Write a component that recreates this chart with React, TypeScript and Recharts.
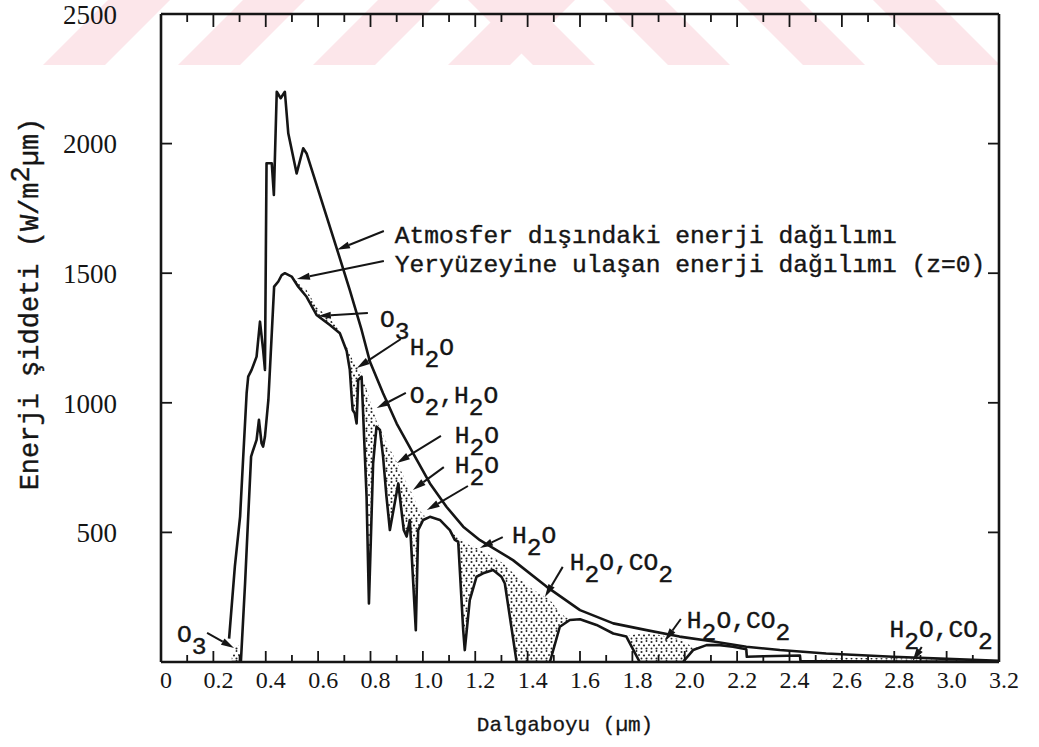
import React from 'react';
import {
  ComposedChart, Line, Area, XAxis, YAxis, ReferenceLine, ReferenceDot,
} from 'recharts';

const W = 1039;
const H = 747;
const MARGIN = { top: 4, right: 30, bottom: 55, left: 101 };
const TOP_AXIS_H = 10;
const RIGHT_AXIS_W = 10;
const LEFT_AXIS_W = 60;
const BOTTOM_AXIS_H = 30;
// plot box that the axes above produce
const PLOT = {
  left: MARGIN.left + LEFT_AXIS_W,
  right: W - MARGIN.right - RIGHT_AXIS_W,
  top: MARGIN.top + TOP_AXIS_H,
  bottom: H - MARGIN.bottom - BOTTOM_AXIS_H,
};
const X_DOMAIN: [number, number] = [0, 3.2];
const Y_DOMAIN: [number, number] = [0, 2500];
const INK = '#151515';
const MONO = '"Liberation Mono", "Courier New", monospace';
const SERIF = '"Liberation Serif", "Times New Roman", serif';

// spectrum outside the atmosphere: [µm, W/m²µm]
const atmosferDisi: [number, number][] = [
  [0.26, 90], [0.282, 368], [0.302, 561], [0.314, 792], [0.327, 1037],
  [0.333, 1101], [0.346, 1127], [0.365, 1178], [0.378, 1313], [0.39, 1204],
  [0.397, 1127], [0.403, 1924], [0.423, 1924], [0.431, 1802], [0.442, 2200],
  [0.457, 2175], [0.473, 2200], [0.486, 2040], [0.518, 1885], [0.543, 1982],
  [0.556, 1962], [0.671, 1596], [0.721, 1435], [0.766, 1281], [0.798, 1158],
  [0.848, 1037], [0.9, 920], [0.963, 805], [1.027, 689], [1.09, 599],
  [1.154, 522], [1.218, 470], [1.344, 393], [1.472, 291], [1.6, 200],
  [1.727, 149], [1.854, 123], [1.98, 98], [2.11, 79], [2.235, 59],
  [2.363, 46], [2.54, 33], [2.795, 20], [3.0, 12], [3.2, 5],
];

// spectrum at ground level (z=0): [µm, W/m²µm, top of the stippled absorption band]
const yeryuzu: [number, number, number | null][] = [
  [0.27, 0, 20], [0.285, 0, 70], [0.3, 0, 60], [0.305, 0, 0],
  [0.321, 303, null], [0.333, 561, null], [0.344, 792, null], [0.352, 818, null],
  [0.365, 857, null], [0.374, 934, null], [0.384, 844, null], [0.39, 831, null],
  [0.397, 870, null], [0.41, 1011, null], [0.423, 1268, null], [0.432, 1448, null],
  [0.448, 1468, null], [0.461, 1493, null], [0.473, 1500, null],
  [0.499, 1487, 1487], [0.524, 1448, 1462], [0.556, 1409, 1435], [0.594, 1339, 1370],
  [0.645, 1300, 1325], [0.683, 1268, 1278], [0.709, 1200, 1222], [0.721, 1127, 1190],
  [0.728, 1023, 1175], [0.732, 972, 1165], [0.74, 959, 1152], [0.747, 920, 1142],
  [0.753, 1088, 1132], [0.766, 1101, 1112], [0.785, 638, 1052], [0.794, 226, 1022],
  [0.81, 766, 972], [0.823, 908, 930], [0.836, 895, 902], [0.848, 792, 875],
  [0.861, 638, 848], [0.874, 509, 822], [0.906, 689, 760], [0.927, 509, 715],
  [0.938, 484, 692], [0.95, 548, 668], [0.973, 123, 618], [0.982, 509, 598],
  [1.001, 548, 565], [1.027, 560, 560],
  [1.065, 548, null],
  [1.103, 509, 509], [1.122, 471, 490], [1.135, 464, 480], [1.154, 123, 466],
  [1.16, 46, 460], [1.179, 239, 450], [1.205, 329, 440], [1.23, 342, 425],
  [1.268, 355, 405], [1.3, 329, 385], [1.313, 303, 375], [1.358, 0, 330],
  [1.42, 0, 280], [1.485, 0, 240], [1.523, 136, 190], [1.561, 162, 162],
  [1.6, 165, null], [1.663, 143, null], [1.727, 110, null],
  [1.777, 98, 98], [1.828, 0, 112], [1.9, 0, 105], [1.993, 0, 85],
  [2.032, 46, 55], [2.083, 65, 65],
  [2.134, 65, null], [2.184, 59, null], [2.235, 49, null], [2.237, 20, null],
  [2.3, 22, null], [2.44, 25, null],
  [2.442, 4, 4], [2.6, 3, 16], [2.8, 2, 14], [3.0, 2, 10], [3.2, 1, 4],
];

const xMajor = [0, 0.2, 0.4, 0.6, 0.8, 1.0, 1.2, 1.4, 1.6, 1.8, 2.0, 2.2, 2.4, 2.6, 2.8, 3.0, 3.2];
const xMinor = [0.1, 0.3, 0.5, 0.7, 0.9, 1.1, 1.3, 1.5, 1.7, 1.9, 2.1, 2.3, 2.5, 2.7, 2.9, 3.1];
const topTicks = [
  0.1, 0.2, 0.3, 0.4, 0.5, 0.6, 0.7, 0.8, 0.9, 1.0, 1.1, 1.2, 1.3, 1.4,
  1.5, 1.6, 1.7, 1.8, 1.9, 2.0, 2.1, 2.2, 2.3, 2.4, 2.5, 2.6, 2.7, 2.8,
];
const yTicks = [500, 1000, 1500, 2000, 2500];
const rightTicks = [500, 1000, 1500, 2000];

// absorption labels: text anchor and arrows (tail -> tip), all in µm / W/m²µm
type Note = { label: string; at: [number, number]; arrows: [number, number, number, number][] };
const notes: Note[] = [
  { label: 'Atmosfer dışındaki enerji dağılımı', at: [0.893, 1616], arrows: [[0.851, 1663, 0.672, 1590]] },
  { label: 'Yeryüzeyine ulaşan enerji dağılımı (z=0)', at: [0.893, 1505], arrows: [[0.851, 1547, 0.519, 1478]] },
  { label: 'O_3', at: [0.836, 1292], arrows: [[0.79, 1346, 0.599, 1335]] },
  { label: 'H_2O', at: [0.95, 1184], arrows: [[0.916, 1246, 0.748, 1134]] },
  { label: 'O_2,H_2O', at: [0.95, 999], arrows: [[0.935, 1038, 0.824, 980]] },
  { label: 'H_2O', at: [1.122, 845], arrows: [[1.069, 872, 0.901, 768]] },
  { label: 'H_2O', at: [1.122, 729], arrows: [[1.08, 752, 0.962, 664], [1.172, 679, 1.015, 586]] },
  { label: 'H_2O', at: [1.34, 459], arrows: [[1.305, 482, 1.218, 440]] },
  { label: 'H_2O,CO_2', at: [1.561, 355], arrows: [[1.534, 367, 1.466, 251]] },
  { label: 'H_2O,CO_2', at: [2.008, 131], arrows: [[1.985, 166, 1.924, 81]] },
  { label: 'H_2O,CO_2', at: [2.782, 96], arrows: [[2.905, 58, 2.87, 4]] },
  { label: 'O_3', at: [0.061, 77], arrows: [[0.176, 112, 0.279, 54]] },
];

const outerRows = atmosferDisi.map(([x, y]) => ({ x, y }));
const surfaceRows = yeryuzu.map(([x, y, top]) => ({ x, y, band: top == null ? null : [y, top] }));
const xTicks = [...xMajor, ...xMinor].sort((a, b) => a - b);
const isMajor = (v: number) => xMajor.some((m) => Math.abs(m - v) < 1e-6);
const frame = { stroke: INK, strokeWidth: 2.6 };

// same linear mapping the chart uses, for the ticks on the top and right edges
const px = (v: number) => PLOT.left + ((v - X_DOMAIN[0]) / (X_DOMAIN[1] - X_DOMAIN[0])) * (PLOT.right - PLOT.left);
const py = (v: number) => PLOT.bottom - ((v - Y_DOMAIN[0]) / (Y_DOMAIN[1] - Y_DOMAIN[0])) * (PLOT.bottom - PLOT.top);

function BottomTick(props: any) {
  const { x, y, payload } = props;
  const v = payload.value as number;
  const major = isMajor(v);
  const edge = v < 0.05 || v > 3.15;
  return (
    <g>
      {!edge && <line x1={x} x2={x} y1={y} y2={y - (major ? 11 : 7)} stroke={INK} strokeWidth={1.8} />}
      {major && (
        <text x={x + 5} y={y + 26} textAnchor="middle" fontFamily={SERIF} fontSize={24} fill={INK}>
          {v === 0 ? '0' : v.toFixed(1)}
        </text>
      )}
    </g>
  );
}

function LeftTick(props: any) {
  const { x, y, payload } = props;
  const v = payload.value as number;
  return (
    <g>
      {v < 2500 && <line x1={x} x2={x + 11} y1={y} y2={y} stroke={INK} strokeWidth={1.8} />}
      <text x={x - 44} y={y} dy="0.36em" textAnchor="end" fontFamily={SERIF} fontSize={27} fill={INK}>
        {v}
      </text>
    </g>
  );
}

function ArrowShape(props: any) {
  const { x1, y1, x2, y2 } = props;
  const a = Math.atan2(y2 - y1, x2 - x1);
  const len = 13;
  const half = 3.6;
  const bx = x2 - len * Math.cos(a);
  const by = y2 - len * Math.sin(a);
  const ox = half * Math.sin(a);
  const oy = half * Math.cos(a);
  return (
    <g>
      <line x1={x1} y1={y1} x2={bx} y2={by} stroke={INK} strokeWidth={2} />
      <polygon points={`${x2},${y2} ${bx + ox},${by - oy} ${bx - ox},${by + oy}`} fill={INK} />
    </g>
  );
}

// "H_2O" -> H, lowered 2, O
function chemText(label: string) {
  const tokens = label.split(/(_.)/).filter(Boolean);
  let down = false;
  return tokens.map((t, i) => {
    if (t[0] === '_' && t.length === 2) {
      const el = <tspan key={i} dy={down ? 0 : 12}>{t[1]}</tspan>;
      down = true;
      return el;
    }
    const el = <tspan key={i} dy={down ? -12 : 0}>{t}</tspan>;
    down = false;
    return el;
  });
}

function LabelShape(props: any) {
  const { cx, cy, label } = props;
  return (
    <text x={cx} y={cy} fontFamily={MONO} fontSize={24.6} fill={INK} stroke={INK} strokeWidth={0.4}>
      {chemText(label)}
    </text>
  );
}

const stripesUp = [43, 178, 313, 448];
const stripesDown = [595, 730, 865, 1000];

export default function App() {
  return (
    <div style={{ position: 'absolute', left: 0, top: 0, width: W, height: H, background: '#fff' }}>
      <svg width={W} height={H} style={{ position: 'absolute', left: 0, top: 0 }}>
        <defs>
          <pattern id="stipple" patternUnits="userSpaceOnUse" width="10" height="10">
            <circle cx="1.5" cy="2" r="1.05" fill="#222" />
            <circle cx="6.5" cy="1" r="0.95" fill="#222" />
            <circle cx="4" cy="5.5" r="1.05" fill="#222" />
            <circle cx="9" cy="5" r="0.95" fill="#222" />
            <circle cx="1.5" cy="8.5" r="0.95" fill="#222" />
            <circle cx="6.5" cy="8.5" r="1.05" fill="#222" />
          </pattern>
        </defs>
        {stripesUp.map((b) => (
          <polygon key={`u${b}`} points={`${b},65 ${b + 62},65 ${b + 127},0 ${b + 65},0`} fill="#fce6ea" />
        ))}
        {stripesDown.map((b) => (
          <polygon key={`d${b}`} points={`${b - 62},65 ${b},65 ${b - 65},0 ${b - 127},0`} fill="#fce6ea" />
        ))}
      </svg>

      <div style={{ position: 'absolute', left: 0, top: 0 }}>
        <ComposedChart width={W} height={H} margin={MARGIN}>
          <XAxis
            type="number" dataKey="x" domain={X_DOMAIN} allowDataOverflow
            ticks={xTicks} interval={0} height={BOTTOM_AXIS_H} tickSize={0} tickMargin={0}
            tickLine={false} axisLine={frame} tick={(p: any) => <BottomTick {...p} />}
          />
          <XAxis
            xAxisId="top" orientation="top" type="number" dataKey="x" domain={X_DOMAIN} allowDataOverflow
            height={TOP_AXIS_H} tick={false} tickLine={false} axisLine={frame}
          />
          <YAxis
            type="number" domain={Y_DOMAIN} allowDataOverflow
            ticks={yTicks} interval={0} width={LEFT_AXIS_W} tickSize={0} tickMargin={0}
            tickLine={false} axisLine={frame} tick={(p: any) => <LeftTick {...p} />}
          />
          <YAxis
            yAxisId="right" orientation="right" type="number" domain={Y_DOMAIN} allowDataOverflow
            width={RIGHT_AXIS_W} tick={false} tickLine={false} axisLine={frame}
          />

          <Area
            data={surfaceRows} dataKey="band" type="linear" stroke="none"
            fill="url(#stipple)" fillOpacity={1} connectNulls={false} isAnimationActive={false}
          />
          <Line
            data={outerRows} dataKey="y" type="linear" stroke={INK} strokeWidth={2.6}
            strokeLinejoin="round" dot={false} activeDot={false} isAnimationActive={false}
          />
          <Line
            data={surfaceRows} dataKey="y" type="linear" stroke={INK} strokeWidth={2.6}
            strokeLinejoin="round" dot={false} activeDot={false} isAnimationActive={false}
          />

          {notes.flatMap((n, i) =>
            n.arrows.map(([xa, ya, xb, yb], j) => (
              <ReferenceLine
                key={`a${i}-${j}`}
                segment={[{ x: xa, y: ya }, { x: xb, y: yb }]}
                ifOverflow="visible"
                shape={(p: any) => <ArrowShape {...p} />}
              />
            )),
          )}
          {notes.map((n, i) => (
            <ReferenceDot
              key={`t${i}`}
              x={n.at[0]}
              y={n.at[1]}
              r={0}
              ifOverflow="visible"
              shape={(p: any) => <LabelShape {...p} label={n.label} />}
            />
          ))}
        </ComposedChart>
      </div>

      <svg width={W} height={H} style={{ position: 'absolute', left: 0, top: 0, pointerEvents: 'none' }}>
        {/* inward ticks on the top and right edges of the frame */}
        {topTicks.map((v) => (
          <line
            key={`tt${v}`} x1={px(v)} x2={px(v)} y1={PLOT.top} y2={PLOT.top + (isMajor(v) ? 13 : 8)}
            stroke={INK} strokeWidth={1.8}
          />
        ))}
        {rightTicks.map((v) => (
          <line
            key={`rt${v}`} x1={PLOT.right} x2={PLOT.right - 11} y1={py(v)} y2={py(v)}
            stroke={INK} strokeWidth={1.8}
          />
        ))}
        <text
          x={565} y={731} textAnchor="middle" fontFamily={MONO} fontSize={21}
          fill={INK} stroke={INK} strokeWidth={0.3}
        >
          Dalgaboyu (µm)
        </text>
        <text
          transform="translate(38,304) rotate(-90)" textAnchor="middle"
          fontFamily={MONO} fontSize={27} fill={INK} stroke={INK} strokeWidth={0.4}
        >
          Enerji şiddeti (W/m<tspan dy={-9}>2</tspan><tspan dy={9}>µm)</tspan>
        </text>
      </svg>
    </div>
  );
}
